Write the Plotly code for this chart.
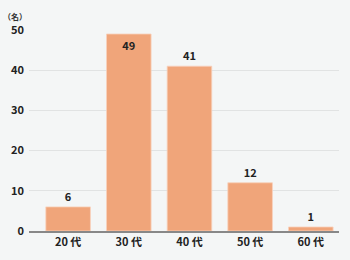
import plotly.graph_objects as go

categories = ["20 代", "30 代", "40 代", "50 代", "60 代"]
values = [6, 49, 41, 12, 1]
y_ticks = [0, 10, 20, 30, 40, 50]

font_family = "Noto Sans CJK JP"
positions = ["inside" if v >= 45 else "outside" for v in values]

fig = go.Figure(go.Bar(
    x=list(range(len(categories))),
    y=values,
    text=[str(v) for v in values],
    textposition=positions,
    insidetextanchor="end",
    textfont=dict(family=font_family, size=11, color="#222222", weight="bold"),
    marker=dict(color="#f0a57a", line=dict(color="#f7d2bd", width=0.8)),
    width=0.735,
    cliponaxis=False,
))

fig.update_layout(
    width=350, height=260,
    margin=dict(l=26, r=11, t=30, b=29),
    paper_bgcolor="#f4f6f6",
    plot_bgcolor="#f4f6f6",
    showlegend=False,
    font=dict(family=font_family, size=11, color="#222222"),
    xaxis=dict(
        tickmode="array",
        tickvals=list(range(len(categories))),
        ticktext=categories,
        range=[-0.645, 4.465],
        showgrid=False,
        zeroline=False,
        showline=True, linecolor="#888888", linewidth=2,
        ticks="",
        tickfont=dict(family=font_family, size=11, color="#222222", weight="bold"),
    ),
    yaxis=dict(
        range=[0, 50],
        tickvals=y_ticks,
        showgrid=True, gridcolor="#e1e3e3", gridwidth=1,
        zeroline=False,
        showline=False,
        ticks="",
        tickfont=dict(family=font_family, size=11, color="#222222", weight="bold"),
        ticklabelstandoff=4,
    ),
    annotations=[dict(
        text="（名）", x=0, xref="paper", xanchor="right", xshift=0,
        y=1, yref="paper", yanchor="bottom", yshift=6,
        showarrow=False, font=dict(family=font_family, size=8, color="#333333", weight="bold"),
    )],
)

fig.write_html("out.html")
